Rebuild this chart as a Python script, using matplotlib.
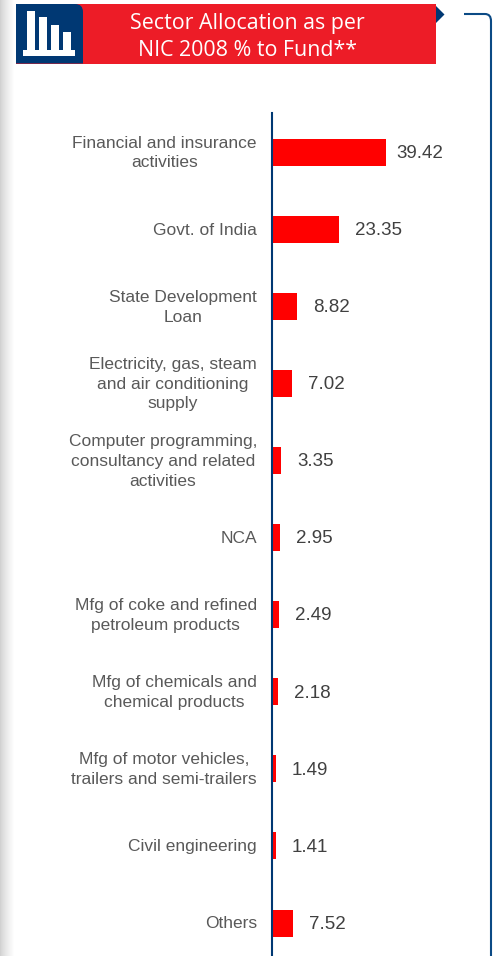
import numpy as np
import matplotlib
matplotlib.use("Agg")
import matplotlib.pyplot as plt
from matplotlib.patches import Rectangle, Polygon, PathPatch
from matplotlib.path import Path
from matplotlib.transforms import ScaledTranslation

categories = [
    "Financial and insurance\nactivities",
    "Govt. of India",
    "State Development\nLoan",
    "Electricity, gas, steam\nand air conditioning\nsupply",
    "Computer programming,\nconsultancy and related\nactivities",
    "NCA",
    "Mfg of coke and refined\npetroleum products",
    "Mfg of chemicals and\nchemical products",
    "Mfg of motor vehicles,\ntrailers and semi-trailers",
    "Civil engineering",
    "Others",
]
values = [39.42, 23.35, 8.82, 7.02, 3.35, 2.95, 2.49, 2.18, 1.49, 1.41, 7.52]
value_labels = ["39.42", "23.35", "8.82", "7.02", "3.35", "2.95", "2.49", "2.18", "1.49", "1.41", "7.52"]
title = "Sector Allocation as per\nNIC 2008 % to Fund**"

W, H = 495, 956
NAVY = "#003873"
fig = plt.figure(figsize=(W / 100, H / 100), dpi=100, facecolor="white")

# Background / decoration layer in pixel coordinates
bg = fig.add_axes([0, 0, 1, 1], zorder=0)
bg.axis("off")

grad = np.linspace(0, 1, 15)[None, :] ** 0.8
bg.imshow(0.82 + 0.18 * grad, extent=(0, 15, H, 0), cmap="gray", vmin=0, vmax=1, aspect="auto", zorder=1)
bg.set_xlim(0, W)
bg.set_ylim(H, 0)

bg.add_patch(Rectangle((16, 4), 420, 59.5, fc="#ED1C27", ec="none", zorder=2))
verts = [(16, 4), (75, 4), (83, 4), (83, 12), (83, 63.5), (16, 63.5), (16, 4)]
codes = [Path.MOVETO, Path.LINETO, Path.CURVE3, Path.CURVE3, Path.LINETO, Path.LINETO, Path.CLOSEPOLY]
bg.add_patch(PathPatch(Path(verts, codes), fc=NAVY, ec="none", zorder=3))
for x0, top_px in [(27, 11), (39, 17), (51, 25), (63.3, 32)]:
    bg.add_patch(Rectangle((x0, top_px), 8, 50.5 - top_px, fc="white", ec="none", zorder=4))
bg.add_patch(Rectangle((23, 50), 52, 6, fc="white", ec="none", zorder=4))
bg.add_patch(Polygon([(436, 6), (444.5, 14.5), (436, 23)], fc=NAVY, ec="none", zorder=3))

verts = [(464, 14), (485, 14), (491, 14), (491, 21), (491, H + 5)]
codes = [Path.MOVETO, Path.LINETO, Path.CURVE3, Path.CURVE3, Path.LINETO]
bg.add_patch(PathPatch(Path(verts, codes), fc="none", ec="#0B4A85", lw=1.5, zorder=3))

bg.text(247.5, 37, title, color="white", fontsize=15.4, family="Open Sans", ha="center",
        va="center", linespacing=1.33, zorder=5)

# Chart axes: left spine is the navy axis line
left, right, top, bottom = 271.5, 486.0, 113.0, 956.0
ax = fig.add_axes([left / W, 1 - bottom / H, (right - left) / W, (bottom - top) / H], zorder=2)
ax.patch.set_alpha(0)
scale = 2.905
ax.set_xlim(0, (right - left) / scale)
step = 77.1
ax.set_ylim((bottom - 152) / step, (top - 152) / step)

pos = np.arange(len(categories))
ax.barh(pos, values, height=27 / step, color="#FF0000", zorder=2)

for spine in ("top", "right", "bottom"):
    ax.spines[spine].set_visible(False)
ax.spines["left"].set_color(NAVY)
ax.spines["left"].set_linewidth(1.5)
ax.spines["left"].set_zorder(3)
ax.set_xticks([])
ax.set_yticks(pos)
ax.set_yticklabels(categories, family="Liberation Sans", fontsize=12.5, color="#595959",
                   multialignment="center", linespacing=1.39)
ax.tick_params(axis="y", length=0, pad=10.5)
shift = ScaledTranslation(0, -1 / 100, fig.dpi_scale_trans)
for lab in ax.get_yticklabels():
    lab.set_verticalalignment("center")
    lab.set_transform(lab.get_transform() + shift)

for i, (p, v, lab) in enumerate(zip(pos, values, value_labels)):
    gap = 7.2 if i == 0 else 11.4
    ax.annotate(lab, (v, p), xytext=(gap, -1.0), textcoords="offset points", ha="left",
                va="center", family="Liberation Sans", fontsize=13.5, color="#404040")

fig.savefig("out.png", dpi=100)
